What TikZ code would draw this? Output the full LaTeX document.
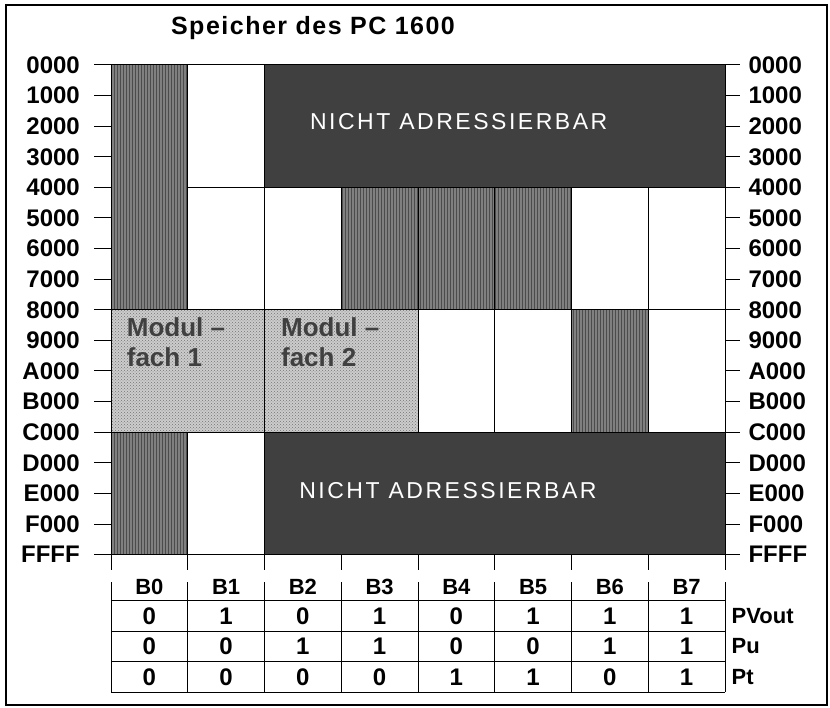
\documentclass[tikz,border=0pt]{standalone}
\usepackage{fontspec}
\setmainfont{Liberation Sans}
\usetikzlibrary{patterns}
\definecolor{nichtgrau}{gray}{0.25}
\definecolor{rastergrau}{gray}{0.5}
\definecolor{modulgrau}{gray}{0.80}
\tikzset{
  nicht/.style={fill=nichtgrau,draw=black},
  raster/.style={preaction={fill=rastergrau},pattern=vertical lines,pattern color=black!70,draw=black},
  modul/.style={preaction={fill=modulgrau},pattern=crosshatch dots,pattern color=black!55,draw=black},
  lbl/.style={inner sep=0pt,font=\bfseries\fontsize{24}{28}\selectfont},
  klein/.style={font=\bfseries\fontsize{22}{26}\selectfont},
}

\begin{document}
\begin{tikzpicture}[x=1pt,y=-1pt,line width=1pt]
  \useasboundingbox (0,0) rectangle (830,708);
  \draw[line width=1.2pt] (6,5) rectangle (827,705);
  \node[lbl,font=\bfseries\fontsize{25}{30}\selectfont\addfontfeature{LetterSpace=6}] (titel) at (313,28) {Speicher des PC 1600};
  \begin{scope}[shift={(111,65)},x=76.75pt,y=-30.6pt]
    % bank 0 and bank 1
    \draw[raster] (0,0) rectangle (1,8);
    \draw[raster] (0,12) rectangle (1,16);
    \draw (1,0) rectangle (2,4);
    \draw (1,4) rectangle (2,8);
    \draw (1,12) rectangle (2,16);
    % not addressable
    \draw[nicht] (2,0) rectangle (8,4);
    \draw[nicht] (2,12) rectangle (8,16);
    % 4000 - 7FFF
    \draw (2,4) rectangle (3,8);
    \draw[raster] (3,4) rectangle (4,8);
    \draw[raster] (4,4) rectangle (5,8);
    \draw[raster] (5,4) rectangle (6,8);
    \draw (6,4) rectangle (7,8);
    \draw (7,4) rectangle (8,8);
    % 8000 - BFFF
    \draw[modul] (0,8) rectangle (2,12);
    \draw[modul] (2,8) rectangle (4,12);
    \draw (4,8) rectangle (5,12);
    \draw (5,8) rectangle (6,12);
    \draw[raster] (6,8) rectangle (7,12);
    \draw (7,8) rectangle (8,12);
    \node[lbl,white,font=\fontsize{23}{28}\selectfont\addfontfeature{LetterSpace=11}] (nicht1) at (4.53,1.86) {NICHT ADRESSIERBAR};
    \node[lbl,white,font=\fontsize{23}{28}\selectfont\addfontfeature{LetterSpace=11}] (nicht2) at (4.39,13.9) {NICHT ADRESSIERBAR};
    \node[lbl,anchor=north west,align=left,text=black!75,font=\bfseries\fontsize{26}{30}\selectfont] (modul1) at (0.2,8.25) {Modul --\\fach 1};
    \node[lbl,anchor=north west,align=left,text=black!75,font=\bfseries\fontsize{26}{30}\selectfont] (modul2) at (2.21,8.25) {Modul --\\fach 2};
    % address ticks
    \foreach \a [count=\k from 0] in {0000,1000,2000,3000,4000,5000,6000,7000,8000,9000,A000,B000,C000,D000,E000,F000,FFFF} {
      \draw (-0.22,\k) -- (0,\k);
      \draw (8,\k) -- (8.2,\k);
      \node[lbl,anchor=east] (li\k) at (-0.4,\k) {\a};
      \node[lbl,anchor=west] (re\k) at (8.3,\k) {\a};
    }
    % bank table
    \foreach \b in {0,...,8} {
      \draw (\b,16) -- (\b,16.5);
      \draw (\b,16.9) -- (\b,20.5);
    }
    \draw (0,17.5) -- (8,17.5);
    \draw (0,18.5) -- (8,18.5);
    \draw (0,19.5) -- (8,19.5);
    \draw (0,20.5) -- (8,20.5);
    \foreach \b in {0,...,7}
      \node[lbl,klein] (kopf\b) at (\b+0.5,17.05) {B\b};
    \foreach \w [count=\b from 0] in {0,1,0,1,0,1,1,1}
      \node[lbl] (pv\b) at (\b+0.5,18) {\w};
    \foreach \w [count=\b from 0] in {0,0,1,1,0,0,1,1}
      \node[lbl] (pu\b) at (\b+0.5,19) {\w};
    \foreach \w [count=\b from 0] in {0,0,0,0,1,1,0,1}
      \node[lbl] (pt\b) at (\b+0.5,20) {\w};
    \node[lbl,klein,anchor=west] (pvout) at (8.08,18) {PVout};
    \node[lbl,klein,anchor=west] (pu) at (8.08,19) {Pu};
    \node[lbl,klein,anchor=west] (pt) at (8.08,20) {Pt};
  \end{scope}
\end{tikzpicture}
\end{document}
